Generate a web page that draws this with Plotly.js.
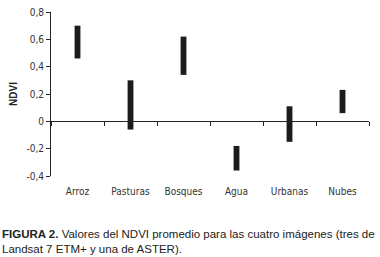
<!DOCTYPE html>
<html><head><meta charset="utf-8">
<script src="https://cdn.plot.ly/plotly-3.0.1.min.js"></script>
<style>body{margin:0;background:#fff}#c{width:380px;height:257px}</style>
</head><body><div id="c"></div>
<script>
const categories = ["Arroz", "Pasturas", "Bosques", "Agua", "Urbanas", "Nubes"];
const ndviMin = [0.46, -0.06, 0.34, -0.36, -0.15, 0.06];
const ndviMax = [0.70, 0.30, 0.62, -0.18, 0.11, 0.23];
const yTickVals = [-0.4, -0.2, 0, 0.2, 0.4, 0.6, 0.8];
const yTickText = ["-0,4", "-0,2", "0", "0,2", "0,4", "0,6", "0,8"];

const FONT = "'Liberation Sans Narrow', 'Arial Narrow', 'Liberation Sans', Arial, sans-serif";
const CFONT = "'DejaVu Sans Condensed', 'Liberation Sans', Arial, sans-serif";
const yMin = -0.4, yMax = 0.8;

const trace = {
  type: "bar",
  x: categories,
  y: ndviMax.map((v, i) => v - ndviMin[i]),
  base: ndviMin,
  width: 0.11,
  marker: {color: "#1c1c1c"},
  hoverinfo: "skip"
};

const layout = {
  width: 380, height: 257,
  margin: {l: 51, r: 11, t: 12, b: 81},
  paper_bgcolor: "#fff", plot_bgcolor: "#fff",
  showlegend: false,
  font: {family: FONT, size: 11, color: "#333"},
  xaxis: {
    type: "category",
    showline: false, ticks: "", showgrid: false, zeroline: false,
    tickfont: {family: CFONT, size: 10, color: "#333"},
    ticklabelstandoff: 8,
    fixedrange: true
  },
  xaxis2: {
    type: "linear", overlaying: "x", anchor: "free",
    position: (0 - yMin) / (yMax - yMin),
    range: [-0.5, categories.length - 0.5],
    tick0: -0.5, dtick: 1,
    showline: true, linecolor: "#222", linewidth: 1,
    ticks: "outside", ticklen: 4, tickcolor: "#222",
    showticklabels: false, showgrid: false, zeroline: false
  },
  yaxis: {
    range: [yMin, yMax],
    tickvals: yTickVals, ticktext: yTickText,
    showline: true, linecolor: "#222", linewidth: 1,
    ticks: "outside", ticklen: 4, tickcolor: "#222",
    showgrid: false, zeroline: false,
    tickfont: {family: CFONT, size: 10, color: "#333"},
    title: {text: "<b>NDVI</b>", font: {family: FONT, size: 10, color: "#222"}, standoff: 6}
  },
  annotations: [
    {xref: "paper", yref: "paper", x: -51/318, y: -0.305, xanchor: "left", yanchor: "top",
     align: "left", showarrow: false,
     text: "<b>FIGURA 2.</b> Valores del NDVI promedio para las cuatro imágenes (tres de<br>Landsat 7 ETM+ y una de ASTER).",
     font: {family: FONT, size: 11.5, color: "#222"}}
  ]
};

const dummy = {type: "scatter", x: [0], y: [0], xaxis: "x2", mode: "markers", marker: {opacity: 0}, hoverinfo: "skip"};

Plotly.newPlot("c", [trace, dummy], layout, {staticPlot: true});
</script>
</body></html>
